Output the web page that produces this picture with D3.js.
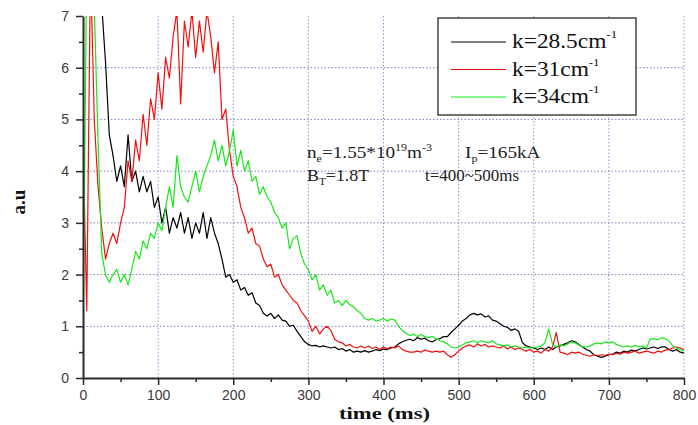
<!DOCTYPE html>
<html>
<head>
<meta charset="utf-8">
<script src="https://cdn.jsdelivr.net/npm/d3@7"></script>
<style>
  html, body { margin: 0; padding: 0; background: #fff; }
  svg { display: block; }
</style>
</head>
<body>
<div id="chart"></div>
<script>
/* global d3 */

// sample times (ms): one reading every 5 ms, 0 .. 800
const time = d3.range(0, 801, 5)

// amplitude (a.u), one row = 100 ms
const k285 = [
  8, 8, 8, 8, 8, 7.2, 6.1, 4.7, 4.3, 3.8, 4.1, 3.7, 4.7, 3.8, 4.0, 3.6, 3.9, 3.6, 3.8, 3.3,
  3.5, 3.0, 3.3, 2.8, 3.1, 2.9, 3.2, 2.8, 3.1, 2.7, 3.0, 2.8, 3.2, 2.7, 3.1, 2.8, 2.6, 2.3, 1.95, 2.0,
  1.85, 1.9, 1.7, 1.75, 1.6, 1.65, 1.45, 1.4, 1.25, 1.2, 1.25, 1.15, 1.22, 1.12, 1.1, 1.0, 1.02, 0.9, 0.8, 0.7,
  0.65, 0.62, 0.63, 0.6, 0.62, 0.6, 0.58, 0.6, 0.55, 0.57, 0.52, 0.55, 0.5, 0.52, 0.5, 0.53, 0.5, 0.52, 0.55, 0.53,
  0.56, 0.55, 0.58, 0.6, 0.66, 0.7, 0.73, 0.75, 0.72, 0.78, 0.75, 0.77, 0.72, 0.7, 0.74, 0.76, 0.8, 0.8, 0.88, 0.95,
  1.02, 1.1, 1.15, 1.22, 1.25, 1.22, 1.24, 1.18, 1.2, 1.12, 1.1, 1.05, 1.0, 0.98, 0.92, 0.95, 0.9, 0.68, 0.62, 0.6,
  0.58, 0.55, 0.58, 0.55, 0.6, 0.55, 0.6, 0.62, 0.65, 0.68, 0.72, 0.7, 0.65, 0.6, 0.55, 0.52, 0.45, 0.42, 0.4, 0.42,
  0.45, 0.46, 0.5, 0.48, 0.52, 0.5, 0.54, 0.52, 0.55, 0.58, 0.56, 0.58, 0.6, 0.57, 0.6, 0.6, 0.55, 0.52, 0.55, 0.5,
  0.48
]
const k31 = [
  4.6, 1.3, 8, 5.0, 3.7, 2.9, 2.3, 2.6, 2.8, 2.6, 3.0, 3.3, 4.2, 3.8, 4.6, 4.2, 5.1, 4.5, 5.4, 5.0,
  5.9, 5.2, 6.2, 5.8, 6.6, 7.1, 5.3, 6.9, 6.4, 7.1, 6.2, 6.9, 6.3, 7.1, 6.6, 5.9, 6.5, 5.0, 5.2, 4.4,
  3.9, 3.7, 3.3, 3.1, 2.8, 2.9, 2.6, 2.55, 2.3, 2.15, 2.2, 1.95, 2.0, 1.8, 1.7, 1.6, 1.5, 1.45, 1.3, 1.2,
  1.1, 0.9, 1.0, 0.85, 0.95, 1.0, 0.92, 0.75, 0.7, 0.68, 0.62, 0.65, 0.6, 0.58, 0.62, 0.58, 0.62, 0.57, 0.6, 0.55,
  0.6, 0.56, 0.6, 0.58, 0.62, 0.55, 0.52, 0.5, 0.5, 0.52, 0.5, 0.54, 0.52, 0.5, 0.52, 0.5, 0.52, 0.45, 0.4, 0.45,
  0.52, 0.58, 0.62, 0.64, 0.6, 0.66, 0.62, 0.65, 0.6, 0.62, 0.6, 0.58, 0.62, 0.56, 0.6, 0.55, 0.58, 0.55, 0.52, 0.55,
  0.5, 0.52, 0.48, 0.55, 0.52, 0.6, 0.88, 0.5, 0.48, 0.45, 0.5, 0.48, 0.5, 0.46, 0.44, 0.42, 0.45, 0.43, 0.45, 0.44,
  0.46, 0.45, 0.48, 0.46, 0.5, 0.48, 0.5, 0.52, 0.48, 0.5, 0.52, 0.5, 0.48, 0.52, 0.5, 0.54, 0.55, 0.58, 0.6, 0.58,
  0.55
]
const k34 = [
  1.0, 8, 8, 7.2, 4.6, 2.4, 2.0, 1.85, 2.0, 2.1, 1.85, 2.0, 1.8, 2.1, 2.45, 2.3, 2.65, 2.5, 2.8, 2.7,
  3.0, 2.85, 3.3, 3.7, 3.3, 4.3, 3.7, 3.5, 3.4, 3.7, 4.0, 3.6, 3.9, 4.1, 4.3, 4.6, 4.2, 4.5, 4.1, 4.4,
  4.8, 4.1, 4.4, 4.0, 4.2, 3.8, 3.9, 3.55, 3.7, 3.5, 3.4, 3.2, 3.1, 2.9, 3.0, 2.5, 2.7, 2.75, 2.4, 2.2,
  2.1, 1.9, 2.0, 1.7, 1.8, 1.6, 1.7, 1.45, 1.5, 1.4, 1.5, 1.42, 1.38, 1.3, 1.25, 1.15, 1.12, 1.15, 1.1, 1.12,
  1.15, 1.1, 1.14, 1.12, 1.0, 0.92, 0.86, 0.82, 0.85, 0.8, 0.84, 0.8, 0.78, 0.8, 0.76, 0.72, 0.7, 0.66, 0.6, 0.58,
  0.6, 0.64, 0.68, 0.7, 0.72, 0.68, 0.72, 0.7, 0.68, 0.72, 0.66, 0.64, 0.62, 0.64, 0.6, 0.62, 0.6, 0.58, 0.6, 0.58,
  0.58, 0.6, 0.62, 0.68, 0.95, 0.65, 0.6, 0.64, 0.62, 0.66, 0.7, 0.68, 0.64, 0.6, 0.6, 0.62, 0.66, 0.68, 0.66, 0.7,
  0.68, 0.7, 0.65, 0.62, 0.6, 0.62, 0.6, 0.63, 0.6, 0.62, 0.58, 0.75, 0.76, 0.74, 0.78, 0.76, 0.72, 0.62, 0.58, 0.55,
  0.52
]

const xTicks = [0, 100, 200, 300, 400, 500, 600, 700, 800]
const xMinor = [50, 150, 250, 350, 450, 550, 650, 750]
const yTicks = [0, 1, 2, 3, 4, 5, 6, 7]
const yMinor = [0.5, 1.5, 2.5, 3.5, 4.5, 5.5, 6.5]
const xGrid = [100, 200, 300, 400, 500, 600, 700, 800]
const yGrid = [1, 2, 3, 4, 5, 6]
const legendK = ['28.5', '31', '34']
const colors = ['#000000', '#f01010', '#18e818']

// canvas
const width = 698,
  height = 425,
  margin = { top: 16, right: 14, bottom: 47, left: 83 }

const svg = d3.select('#chart')
  .append('svg')
  .attr('width', width)
  .attr('height', height)
  .style('background', '#fff')

const x = d3.scaleLinear().domain([0, 800]).range([margin.left, width - margin.right])
const y = d3.scaleLinear().domain([0, 7]).range([height - margin.bottom, margin.top])

const serif = '"Liberation Serif", "Times New Roman", serif'
const sans = '"Liberation Sans", Arial, sans-serif'

// dotted grid
svg.append('g')
  .selectAll('line')
  .data(yGrid)
  .join('line')
  .attr('x1', x(0)).attr('x2', x(800))
  .attr('y1', d => y(d)).attr('y2', d => y(d))
  .attr('stroke', '#8080c4')
  .attr('stroke-dasharray', '1.5,2')
svg.append('g')
  .selectAll('line')
  .data(xGrid)
  .join('line')
  .attr('x1', d => x(d)).attr('x2', d => x(d))
  .attr('y1', y(0)).attr('y2', y(7))
  .attr('stroke', '#9090d4')
  .attr('stroke-dasharray', '1.5,2')

// traces
svg.append('clipPath').attr('id', 'plot')
  .append('rect')
  .attr('x', x(0)).attr('y', y(7))
  .attr('width', x(800) - x(0)).attr('height', y(0) - y(7))

const line = d3.line()
  .x((d, i) => x(time[i]))
  .y(d => y(d))

const series = [k285, k31, k34]
svg.append('g')
  .attr('clip-path', 'url(#plot)')
  .selectAll('path')
  .data(series)
  .join('path')
  .attr('d', d => line(d))
  .attr('fill', 'none')
  .attr('stroke', (d, i) => colors[i])
  .attr('stroke-width', 1.2)
  .attr('stroke-linejoin', 'round')

// axes
const xAxis = svg.append('g')
  .attr('transform', `translate(0, ${y(0)})`)
  .call(d3.axisBottom(x).tickValues(xTicks).tickSize(7).tickPadding(5).tickSizeOuter(0))
svg.append('g')
  .attr('transform', `translate(0, ${y(0)})`)
  .call(d3.axisBottom(x).tickValues(xMinor).tickSize(4).tickFormat('').tickSizeOuter(0))
  .call(g => g.select('.domain').remove())
const yAxis = svg.append('g')
  .attr('transform', `translate(${x(0)}, 0)`)
  .call(d3.axisLeft(y).tickValues(yTicks).tickFormat(d3.format('d')).tickSize(7).tickPadding(7).tickSizeOuter(0))
svg.append('g')
  .attr('transform', `translate(${x(0)}, 0)`)
  .call(d3.axisLeft(y).tickValues(yMinor).tickSize(4).tickFormat('').tickSizeOuter(0))
  .call(g => g.select('.domain').remove())

svg.selectAll('.domain').attr('stroke', '#2a2a2a').attr('stroke-width', 2)
svg.selectAll('.tick line').attr('stroke', '#2a2a2a').attr('stroke-width', 1.5)
xAxis.selectAll('text').attr('font-family', sans).attr('font-size', 14).attr('fill', '#3a3a3a')
yAxis.selectAll('text').attr('font-family', sans).attr('font-size', 14).attr('fill', '#3a3a3a')

// axis titles
svg.append('text')
  .attr('x', 339).attr('y', 419)
  .attr('textLength', 91)
  .attr('lengthAdjust', 'spacingAndGlyphs')
  .attr('font-family', serif).attr('font-weight', 'bold').attr('font-size', 17)
  .attr('fill', '#111')
  .text('time (ms)')
svg.append('text')
  .attr('transform', 'translate(25, 202) rotate(-90)')
  .attr('text-anchor', 'middle')
  .attr('font-family', serif).attr('font-weight', 'bold').attr('font-size', 19)
  .attr('fill', '#111')
  .text('a.u')

// legend
const legend = svg.append('g')
legend.append('rect')
  .attr('x', 438).attr('y', 18).attr('width', 198).attr('height', 97)
  .attr('fill', '#fff').attr('stroke', '#444').attr('stroke-width', 1.5)
const rows = legend.selectAll('g.row')
  .data(legendK)
  .join('g')
  .attr('class', 'row')
  .attr('transform', (d, i) => `translate(0, ${42 + i * 27.5})`)
rows.append('line')
  .attr('x1', 451).attr('x2', 506)
  .attr('stroke', (d, i) => colors[i])
  .attr('stroke-width', 1.2)
const lt = rows.append('text')
  .attr('transform', 'translate(512, 6) scale(1.17, 1)')
  .attr('font-family', serif).attr('font-size', 20).attr('fill', '#111')
lt.append('tspan').text(d => `k=${d}cm`)
lt.append('tspan').attr('dy', -10).attr('font-size', 11).text('-1')

// experiment conditions
const note = svg.append('g')
  .attr('font-family', serif).attr('font-size', 16).attr('fill', '#222')
const n1 = note.append('text').attr('transform', 'translate(307, 158) scale(1.2, 1)')
n1.append('tspan').text('n')
n1.append('tspan').attr('dy', 4).attr('font-size', 10).text('e')
n1.append('tspan').attr('dy', -4).text('=1.55*10')
n1.append('tspan').attr('dy', -7).attr('font-size', 10).text('19')
n1.append('tspan').attr('dy', 7).text('m')
n1.append('tspan').attr('dy', -7).attr('font-size', 10).text('-3')
const n2 = note.append('text').attr('transform', 'translate(465, 158) scale(1.2, 1)')
n2.append('tspan').text('I')
n2.append('tspan').attr('dy', 4).attr('font-size', 10).text('p')
n2.append('tspan').attr('dy', -4).text('=165kA')
const n3 = note.append('text').attr('transform', 'translate(307, 181) scale(1.12, 1)')
n3.append('tspan').text('B')
n3.append('tspan').attr('dy', 4).attr('font-size', 10).text('T')
n3.append('tspan').attr('dy', -4).text('=1.8T')
note.append('text').attr('transform', 'translate(425, 181) scale(1.06, 1)').text('t=400~500ms')
</script>
</body>
</html>
